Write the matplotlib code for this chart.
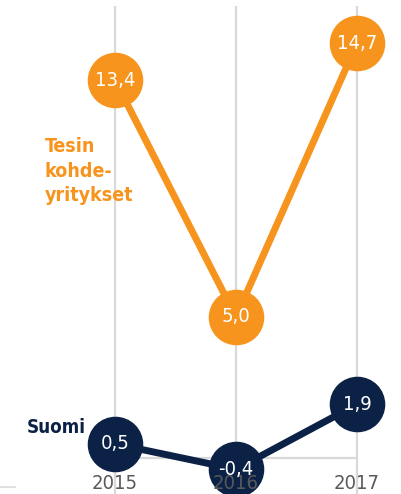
import matplotlib
matplotlib.use("Agg")
import matplotlib.pyplot as plt
from matplotlib.lines import Line2D

years = ["2015", "2016", "2017"]
tesi = [13.4, 5.0, 14.7]
suomi = [0.5, -0.4, 1.9]

ORANGE = "#F7941D"
NAVY = "#0C2146"
GRID = "#D9D9D9"
TICK = "#595959"


def fmt(v):
    return f"{v:.1f}".replace(".", ",")


fig = plt.figure(figsize=(4.01, 4.94), dpi=100)
ax = fig.add_axes([0, 0, 1, 1])
ax.set_xlim(-0.95, 2.364)
ax.set_ylim(-1.277, 16.24)
ax.axis("off")

x = list(range(len(years)))

# grid
ax.vlines(x, -1.3, 16.03, color=GRID, lw=1.6, zorder=1)
ax.hlines(0, x[0], x[-1], color=GRID, lw=1.6, zorder=1)

# series
ax.plot(x, tesi, color=ORANGE, lw=5, marker="o", ms=39, zorder=3)
ax.plot(x, suomi, color=NAVY, lw=5, marker="o", ms=39, zorder=3)

for xi, y in zip(x, years):
    ax.text(xi, -0.89, y, ha="center", va="center", color=TICK,
            fontsize=14.5, fontstretch="condensed", zorder=4)

for series in (tesi, suomi):
    for xi, v in zip(x, series):
        ax.text(xi, v, fmt(v), ha="center", va="center", color="white",
                fontsize=14.5, fontstretch="condensed", zorder=5)

ax.text(45 / 401, 1 - 137 / 494, "Tesin\nkohde-\nyritykset", transform=ax.transAxes,
        ha="left", va="top", color=ORANGE, fontsize=14, fontweight="bold",
        fontstretch="condensed", linespacing=1.37)
ax.text(27 / 401, 1 - 433 / 494, "Suomi", transform=ax.transAxes,
        ha="left", va="baseline", color=NAVY, fontsize=13.5, fontweight="bold",
        fontstretch="condensed")

# stray rule at lower left
fig.add_artist(Line2D([0, 15 / 401], [1 - 487 / 494] * 2, color=GRID, lw=1.2))

fig.savefig("out.png", dpi=100)
